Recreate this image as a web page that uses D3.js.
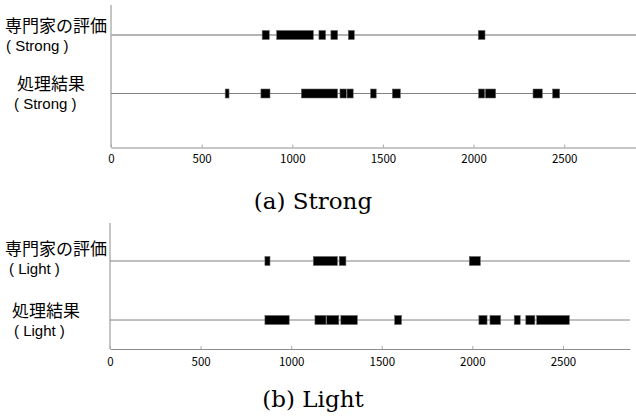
<!DOCTYPE html>
<html>
<head>
<meta charset="utf-8">
<script src="https://cdn.jsdelivr.net/npm/d3@7"></script>
<style>
  body { margin: 0; background: #fff; }
  svg { display: block; }
  .rowlabel { font-family: "Noto Sans CJK JP", sans-serif; font-size: 17px; fill: #000; }
  .sublabel { font-family: "Liberation Sans", sans-serif; font-size: 15px; fill: #000; }
  .caption { font-family: "DejaVu Serif", serif; font-size: 23px; fill: #000; }
  .axis text { font-family: "Noto Sans CJK JP", sans-serif; font-size: 11.5px; fill: #000; }
</style>
</head>
<body>
<div id="chart"></div>
<script>
// Timeline data: [start, end] intervals on the time axis

const tickValues = [0, 500, 1000, 1500, 2000, 2500]

const strongExpert = [[834, 873], [914, 1116], [1147, 1184], [1213, 1250], [1309, 1342], [2026, 2063]]
const strongResult = [[630, 651], [827, 877], [1050, 1250], [1263, 1298], [1302, 1336], [1432, 1463],
  [1552, 1596], [2028, 2061], [2065, 2122], [2328, 2379], [2436, 2475]]

const lightExpert = [[855, 883], [1122, 1255], [1265, 1302], [1983, 2044]]
const lightResult = [[855, 989], [1131, 1192], [1196, 1263], [1274, 1365], [1571, 1609], [2036, 2081],
  [2097, 2156], [2231, 2264], [2295, 2345], [2355, 2535]]

const expertLabel = '専門家の評価'
const resultLabel = '処理結果'
const captions = ['(a) Strong', '(b) Light']
const strengthLabels = ['( Strong )', '( Light )']

const width = 636
const height = 418

const svg = d3.select('#chart')
  .append('svg')
  .attr('width', width)
  .attr('height', height)

// one panel = two timeline rows above a shared x axis
const drawPanel = (p) => {
  const x = d3.scaleLinear()
    .domain([0, p.xMax])
    .range([p.left, p.right])

  const g = svg.append('g')

  // y axis line
  g.append('line')
    .attr('x1', p.left).attr('x2', p.left)
    .attr('y1', p.top).attr('y2', p.axisY)
    .attr('stroke', '#8c8c8c')
    .attr('stroke-width', 1)

  // x axis
  const axis = g.append('g')
    .attr('class', 'axis')
    .attr('transform', `translate(0, ${p.axisY})`)
    .call(d3.axisBottom(x)
      .tickValues(tickValues)
      .tickFormat(d3.format('d'))
      .tickSizeInner(-3)
      .tickSizeOuter(0)
      .tickPadding(p.tickPad))
  axis.select('.domain').attr('stroke', '#8c8c8c')
  axis.selectAll('.tick line').attr('stroke', '#aaa')

  p.rows.forEach((row) => {
    g.append('line')
      .attr('x1', p.left).attr('x2', p.right)
      .attr('y1', row.y).attr('y2', row.y)
      .attr('stroke', row.lineColor)
      .attr('stroke-width', row.lineWidth)

    g.selectAll(null)
      .data(row.data)
      .enter().append('rect')
      .attr('x', (d) => x(d[0]))
      .attr('width', (d) => x(d[1]) - x(d[0]))
      .attr('y', row.y - 4.5)
      .attr('height', 9)
      .attr('fill', '#000')
      .attr('stroke', '#666')
      .attr('stroke-width', 0.6)

    g.append('text')
      .attr('class', 'rowlabel')
      .attr('x', row.label.x)
      .attr('y', row.label.y)
      .text(row.label.text)

    g.append('text')
      .attr('class', 'sublabel')
      .attr('x', row.sub.x)
      .attr('y', row.sub.y)
      .text(row.sub.text)
  })

  g.append('text')
    .attr('class', 'caption')
    .attr('x', 313)
    .attr('y', p.captionY)
    .attr('text-anchor', 'middle')
    .text(p.caption)
}

drawPanel({
  left: 111, right: 636, xMax: 2896, top: 5, axisY: 147.5, tickPad: 7,
  caption: captions[0], captionY: 209,
  rows: [
    { y: 35, data: strongExpert, lineColor: '#b4b4b4', lineWidth: 2,
      label: { text: expertLabel, x: 5, y: 31.5 }, sub: { text: strengthLabels[0], x: 6, y: 50.5 } },
    { y: 93.5, data: strongResult, lineColor: '#808080', lineWidth: 1,
      label: { text: resultLabel, x: 17, y: 90 }, sub: { text: strengthLabels[0], x: 14, y: 109 } }
  ]
})

drawPanel({
  left: 110, right: 630, xMax: 2870, top: 223, axisY: 349, tickPad: 9,
  caption: captions[1], captionY: 407,
  rows: [
    { y: 261, data: lightExpert, lineColor: '#808080', lineWidth: 1,
      label: { text: expertLabel, x: 5, y: 254.5 }, sub: { text: strengthLabels[1], x: 9, y: 273.5 } },
    { y: 320, data: lightResult, lineColor: '#808080', lineWidth: 1,
      label: { text: resultLabel, x: 12, y: 317 }, sub: { text: strengthLabels[1], x: 14, y: 336 } }
  ]
})
</script>
</body>
</html>
